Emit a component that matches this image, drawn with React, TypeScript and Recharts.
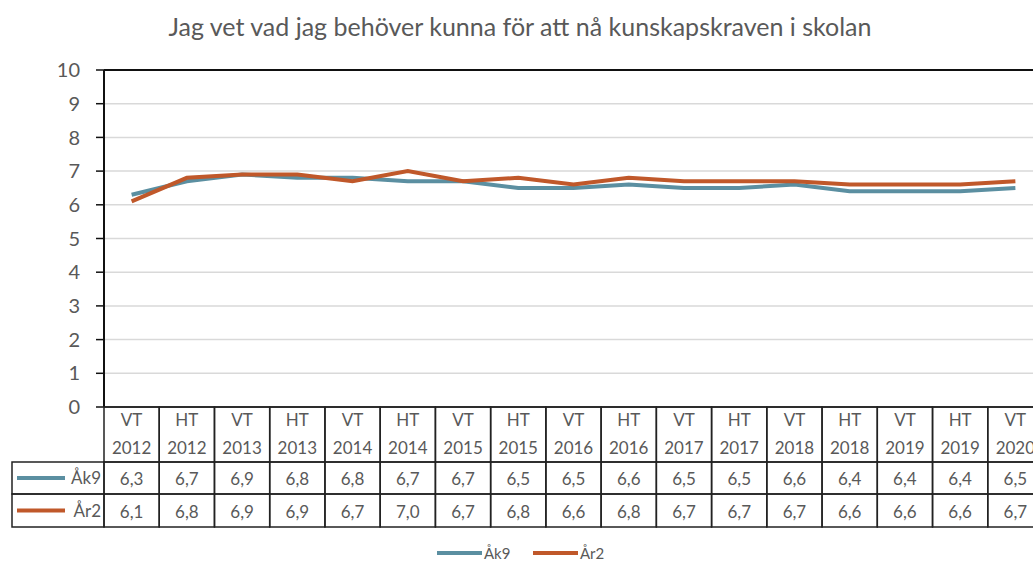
import React from "react";
import { LineChart, Line, XAxis, YAxis, CartesianGrid, ReferenceLine, Customized } from "recharts";

const categories = [
  "VT 2012", "HT 2012", "VT 2013", "HT 2013", "VT 2014", "HT 2014", "VT 2015", "HT 2015", "VT 2016",
  "HT 2016", "VT 2017", "HT 2017", "VT 2018", "HT 2018", "VT 2019", "HT 2019", "VT 2020",
];
const ak9 = [6.3, 6.7, 6.9, 6.8, 6.8, 6.7, 6.7, 6.5, 6.5, 6.6, 6.5, 6.5, 6.6, 6.4, 6.4, 6.4, 6.5];
const ar2 = [6.1, 6.8, 6.9, 6.9, 6.7, 7.0, 6.7, 6.8, 6.6, 6.8, 6.7, 6.7, 6.7, 6.6, 6.6, 6.6, 6.7];
const yTicks = [0, 1, 2, 3, 4, 5, 6, 7, 8, 9, 10];
const title = "Jag vet vad jag behöver kunna för att nå kunskapskraven i skolan";

const series = [
  { key: "ak9", name: "Åk9", values: ak9, color: "#5B8FA1" },
  { key: "ar2", name: "År2", values: ar2, color: "#C0582A" },
];

const data = categories.map((c, i) => ({ cat: c, ak9: ak9[i], ar2: ar2[i] }));

const FONT = "Lato, sans-serif";
const GREY = "#595959";
const CHART_W = 1050;
const PLOT_L = 104;
const PLOT_R = 1043;
const COL = (PLOT_R - PLOT_L) / categories.length;
const ROWS = [407, 462, 494, 527];
const TXT = 17;

const fmt = (v: number) => v.toFixed(1).replace(".", ",");

function TableTick(props: any) {
  const { x, payload } = props;
  const i = payload.index;
  const [term, year] = String(payload.value).split(" ");
  const left = x - COL / 2;
  return (
    <g>
      {[0, 1, 2].map((r) => (
        <rect key={r} x={left} y={ROWS[r]} width={COL} height={ROWS[r + 1] - ROWS[r]} fill="none" stroke="#222" strokeWidth={1.5} />
      ))}
      <text x={x} y={426} textAnchor="middle" fontSize={TXT} fill={GREY} fontFamily={FONT}>{term}</text>
      <text x={x} y={454} textAnchor="middle" fontSize={TXT} fill={GREY} fontFamily={FONT}>{year}</text>
      {series.map((s, r) => (
        <text key={s.key} x={x} y={r === 0 ? 485 : 518} textAnchor="middle" fontSize={TXT} fill={GREY} fontFamily={FONT}>
          {fmt(s.values[i])}
        </text>
      ))}
    </g>
  );
}

function Extras() {
  return (
    <g>
      <text x={520} y={36} textAnchor="middle" fontSize={25} fill={GREY} fontFamily={FONT}>{title}</text>
      {series.map((s, r) => {
        const y0 = ROWS[r + 1];
        const y1 = ROWS[r + 2];
        const cy = (y0 + y1) / 2;
        return (
          <g key={s.key}>
            <rect x={12} y={y0} width={PLOT_L - 12} height={y1 - y0} fill="none" stroke="#222" strokeWidth={1.5} />
            <line x1={17} x2={65} y1={cy} y2={cy} stroke={s.color} strokeWidth={4} />
            <text x={101} y={cy + 6} textAnchor="end" fontSize={TXT} fill={GREY} fontFamily={FONT}>{s.name}</text>
          </g>
        );
      })}
      {series.map((s, r) => {
        const lx = 437 + r * 96;
        return (
          <g key={"lg" + s.key}>
            <line x1={lx} x2={lx + 45} y1={553} y2={553} stroke={s.color} strokeWidth={4} />
            <text x={lx + 47} y={559} fontSize={15} fill={GREY} fontFamily={FONT}>{s.name}</text>
          </g>
        );
      })}
    </g>
  );
}

export default function App() {
  return (
    <div style={{ position: "fixed", left: 0, top: 0, width: 1033, height: 565, overflow: "hidden", background: "#fff" }}>
      <LineChart width={CHART_W} height={565} data={data} margin={{ top: 70, right: CHART_W - PLOT_R, bottom: 38, left: PLOT_L - 60 }}>
        <CartesianGrid vertical={false} stroke="#d9d9d9" strokeWidth={1.5} />
        <XAxis dataKey="cat" scale="band" interval={0} height={120} axisLine={{ stroke: "#222", strokeWidth: 1.5 }} tickLine={false} tick={<TableTick />} />
        <YAxis
          domain={[0, 10]}
          ticks={yTicks}
          width={60}
          tickSize={8}
          tickMargin={16}
          axisLine={{ stroke: "#111", strokeWidth: 2 }}
          tickLine={{ stroke: "#111", strokeWidth: 1.5 }}
          tick={{ fill: GREY, fontSize: 20, fontFamily: FONT }}
        />
        <ReferenceLine y={10} stroke="#111" strokeWidth={2} />
        {series.map((s) => (
          <Line key={s.key} dataKey={s.key} name={s.name} type="linear" stroke={s.color} strokeWidth={4} dot={false} isAnimationActive={false} />
        ))}
        <Customized component={Extras} />
      </LineChart>
    </div>
  );
}
